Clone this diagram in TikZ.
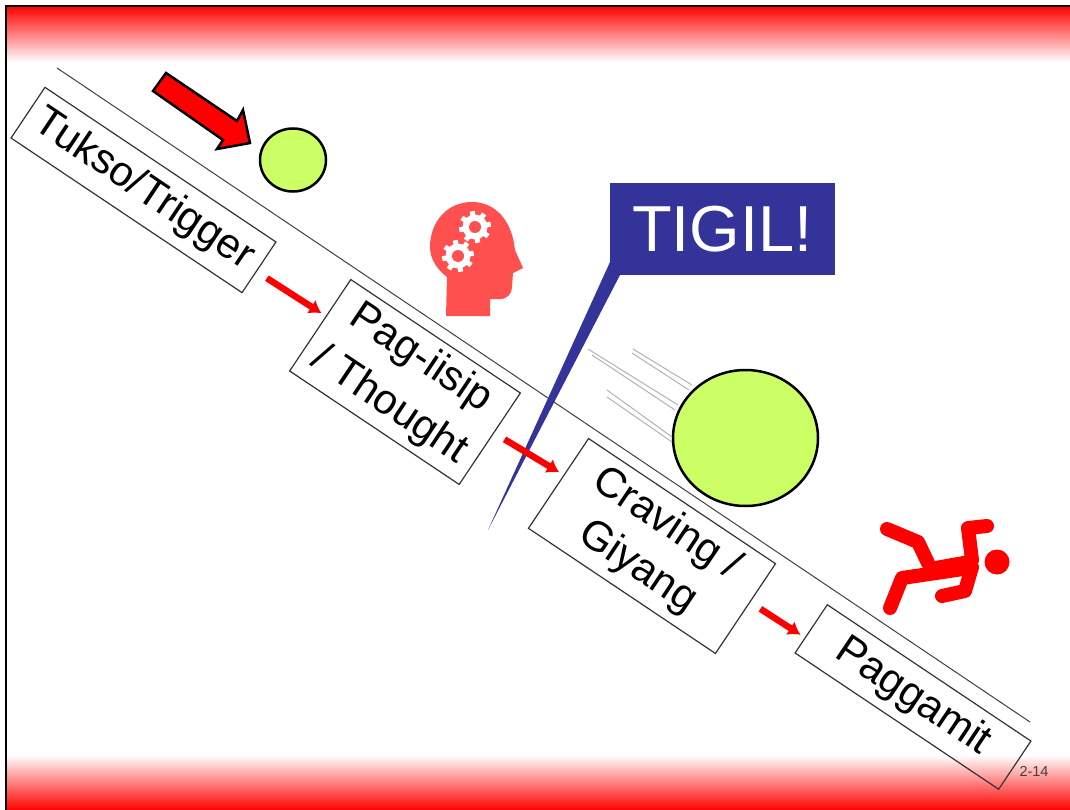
\documentclass[tikz,border=0pt]{standalone}
\usepackage{fontspec}
\setmainfont{Liberation Sans}
\usetikzlibrary{arrows.meta,shapes.geometric}
\definecolor{limeball}{HTML}{CCFF66}
\definecolor{tigilblue}{HTML}{333399}
\definecolor{headred}{HTML}{FF5050}
\tikzstyle{block} = [rectangle, draw=black!80, line width=1.2pt, rotate=-33.8, align=center,
    inner sep=0pt, font=\fontsize{42}{50}\selectfont]
\tikzstyle{line} = [draw, red, line width=6.5pt, -{Latex[length=12pt,width=16pt]}, shorten >=5pt, shorten <=12pt]
\tikzstyle{ball} = [ellipse, draw, fill=limeball, line width=2.5pt, inner sep=0pt]
\tikzstyle{speed} = [draw, black!30, line width=1pt]
\tikzstyle{limb} = [draw, red, line width=14pt, line cap=round, line join=round]
\newcommand{\gearicon}[2]{
  \foreach \ang in {0,45,...,315} {
    \draw [white, line width=5pt] (#1,#2) -- +(\ang+10:16 and -16);
  }
  \fill [white] (#1,#2) circle (12.5);
  \fill [headred] (#1,#2) circle (6);
}

\begin{document}
\begin{tikzpicture}[x=1pt, y=-1pt]
\useasboundingbox (0,0) rectangle (1070,810);

\shade [top color=red, bottom color=white] (6,6) rectangle (1070,62);
\shade [top color=white, bottom color=red] (6,755) rectangle (1070,810);
\draw [line width=2pt] (6,810) -- (6,6) -- (1070,6);

\coordinate (slopetop) at (57,68);
\coordinate (slopeend) at (1030,722);
\draw [black!75, line width=1pt] (slopetop) -- (slopeend);

\fill [tigilblue] (610,262) -- (488,530) -- (620,275) -- cycle;
\node [fill=tigilblue, text=white, minimum width=225pt, minimum height=92pt, inner sep=0pt,
    font=\fontsize{65}{70}\selectfont] (tigil) at (722.5,229) {TIGIL!};

\node [block, minimum width=278pt, minimum height=61pt] (trigger) at (143.5,190) {Tukso/Trigger};
\node [block, minimum width=204pt, minimum height=110pt] (thought) at (405,382) {Pag-iisip\\[6pt]/ Thought};
\node [block, minimum width=225pt, minimum height=108pt] (craving) at (652,546) {Craving /\\[2pt]Giyang};
\node [block, minimum width=245pt, minimum height=58pt] (paggamit) at (913,697) {Paggamit};

\path [line] (trigger.-2.5) -- (thought.174.5);
\path [line] (thought.4.5) -- (craving.175.4);
\path [line] (craving.4.6) -- (paggamit.185.8);

\node [ball, minimum width=66pt, minimum height=63pt] (smallball) at (293,160) {};
\node [ball, minimum width=145pt, minimum height=136pt] (bigball) at (745.5,438) {};

\draw [speed] (633,349) -- (692,385);
\draw [speed] (632,353) -- (689,390);
\draw [speed] (588,349) -- (678,405);
\draw [speed] (592,355) -- (675,410);
\draw [speed] (607,390) -- (672,437);
\draw [speed] (607,397) -- (672,442);

\draw [fill=red, line width=2.5pt, line join=miter] (166,73) -- (237,121) -- (243,110) -- (250,143)
    -- (217,149) -- (223,140) -- (153,91) -- cycle;

\fill [headred] (446,316) -- (490,316) -- (490,299) -- (500,299)
    .. controls (508,299) and (512,293) .. (512,287) -- (513,273) -- (523,268) -- (515,250)
    .. controls (512,220) and (495,202) .. (472,202)
    .. controls (447,202) and (430,222) .. (430,247)
    .. controls (430,260) and (438,270) .. (447,277) -- cycle;
\gearicon{475}{227}
\gearicon{458}{256}

\fill [red] (997,562) circle (12.5);
\draw [limb] (887,529) -- (918,542) -- (928,563);
\draw [limb] (890,608) -- (902,578) -- (970,568);
\draw [limb] (987,526) -- (968,528) -- (972,560);
\draw [limb] (942,596) -- (965,591) -- (972,567);
\draw [limb, line width=16pt, line cap=butt] (930,570) -- (975,562);

\node [text=black!75, font=\fontsize{14.5}{16}\selectfont] (pagenum) at (1034,771) {2-14};
\end{tikzpicture}
\end{document}
